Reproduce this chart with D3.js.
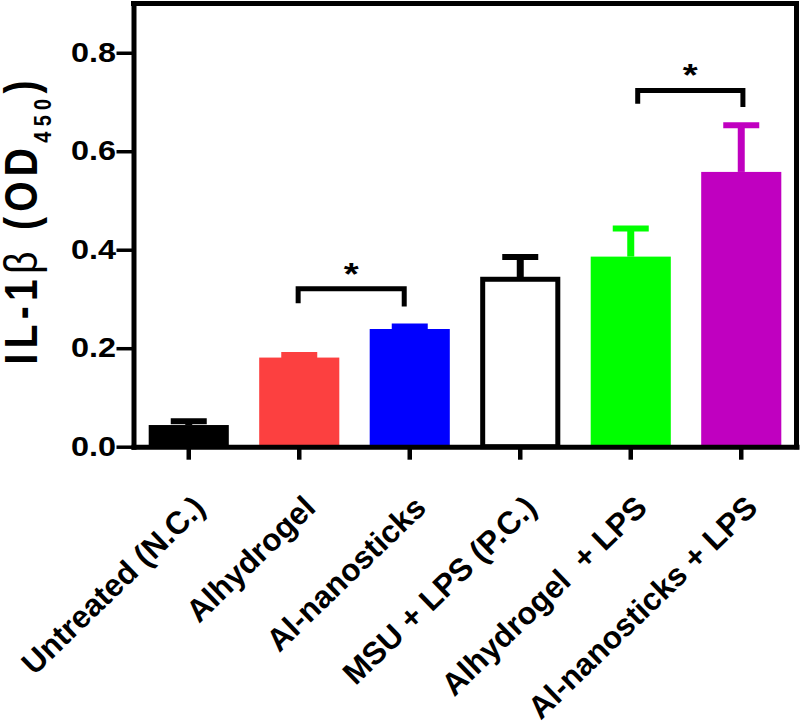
<!DOCTYPE html>
<html>
<head>
<meta charset="utf-8">
<script src="https://cdn.jsdelivr.net/npm/d3@7"></script>
<style>
  html, body { margin: 0; padding: 0; background: #fff; }
  svg { display: block; }
  text { font-family: "Liberation Sans", Arial, Helvetica, sans-serif; font-weight: bold; fill: #000; }
</style>
</head>
<body>
<svg id="chart" width="800" height="725"></svg>
<script>
// ---- data ----
const categories = ["Untreated (N.C.)", "Alhydrogel", "Al-nanosticks", "MSU + LPS (P.C.)", "Alhydrogel  + LPS", "Al-nanosticks + LPS"];
const means = [0.044, 0.181, 0.239, 0.340, 0.386, 0.558];
const sems = [0.0076, 0.005, 0.005, 0.045, 0.057, 0.095];
const fills = ["#000000", "#FC4040", "#0000FF", "#FFFFFF", "#00FF00", "#C000C0"];
const yTicks = [0.0, 0.2, 0.4, 0.6, 0.8];
// significance brackets: fractional category positions, bar height, leg end values
const bracketFrom = [0.99, 4.063];
const bracketTo = [1.95, 5.015];
const bracketTop = [0.3205, 0.7234];
const bracketLegFrom = [0.2915, 0.6965];
const bracketLegTo = [0.2846, 0.6898];
const bracketLabel = ["*", "*"];

(function () {
const svg = d3.select("#chart");
const pL = 133.5, pR = 796.5, pT = 3.5, pB = 446.7;

const y = d3.scaleLinear().domain([0, 0.9]).range([pB, pT]);
const x = d3.scaleBand().domain(categories).range([pL, pR]).paddingInner(0.275).paddingOuter(0.1375);
const xi = d3.scaleLinear().domain([0, 1]).range([x(categories[0]) + x.bandwidth() / 2, x(categories[1]) + x.bandwidth() / 2]);

// bars
const bars = svg.append("g");
categories.forEach((c, i) => {
  const isWhite = fills[i] === "#FFFFFF";
  const cx = x(c) + x.bandwidth() / 2;
  const ecol = isWhite ? "#000" : fills[i];
  bars.append("line")
    .attr("x1", cx).attr("x2", cx)
    .attr("y1", y(means[i])).attr("y2", y(means[i] + sems[i]))
    .attr("stroke", ecol).attr("stroke-width", 7);
  bars.append("line")
    .attr("x1", cx - 18).attr("x2", cx + 18)
    .attr("y1", y(means[i] + sems[i])).attr("y2", y(means[i] + sems[i]))
    .attr("stroke", ecol).attr("stroke-width", 6);
  if (isWhite) {
    bars.append("rect")
      .attr("x", x(c) + 2.5).attr("width", x.bandwidth() - 5)
      .attr("y", y(means[i])).attr("height", y(0) - y(means[i]))
      .attr("fill", "#fff").attr("stroke", "#000").attr("stroke-width", 5);
  } else {
    bars.append("rect")
      .attr("x", x(c)).attr("width", x.bandwidth())
      .attr("y", y(means[i])).attr("height", y(0) - y(means[i]))
      .attr("fill", fills[i]);
  }
});

// frame (top + right)
svg.append("path")
  .attr("d", `M${pL},${pT}H${pR}V${pB}`)
  .attr("fill", "none").attr("stroke", "#000").attr("stroke-width", 5)
  .attr("stroke-linecap", "square");

// y axis
const yAxis = svg.append("g").attr("transform", `translate(${pL},0)`)
  .call(d3.axisLeft(y).tickValues(yTicks).tickFormat(d3.format(".1f")).tickSize(17).tickSizeOuter(0));
yAxis.attr("font-family", null).attr("font-size", null);
yAxis.select(".domain").attr("stroke", "#000").attr("stroke-width", 5).attr("stroke-linecap", "square");
yAxis.selectAll(".tick line").attr("stroke", "#000").attr("stroke-width", 3.5);
yAxis.selectAll(".tick text")
  .attr("x", 0)
  .attr("transform", "translate(-17.5,0) scale(1.2,1)")
  .attr("font-size", 27)
  .attr("fill", "#000");

// x axis
const xAxis = svg.append("g").attr("transform", `translate(0,${pB})`)
  .call(d3.axisBottom(x).tickSize(13).tickSizeOuter(0));
xAxis.attr("font-family", null).attr("font-size", null);
xAxis.select(".domain").attr("stroke", "#000").attr("stroke-width", 5).attr("stroke-linecap", "square");
xAxis.selectAll(".tick line").attr("stroke", "#000").attr("stroke-width", 4.5);
xAxis.selectAll(".tick text")
  .attr("x", 0).attr("y", 0).attr("dy", 0)
  .attr("text-anchor", "end")
  .attr("transform", "translate(18,63) rotate(-44)")
  .attr("font-size", 31.5)
  .style("white-space", "pre")
  .attr("fill", "#000");

// y label
const yl = svg.append("text")
  .attr("text-anchor", "middle")
  .attr("transform", "translate(37,222.5) scale(1.2,1) rotate(-90)")
  .attr("font-size", 39)
  .attr("textLength", 284)
  .attr("lengthAdjust", "spacing");
yl.append("tspan").text("IL-1");
yl.append("tspan").attr("font-weight", "normal").text("β");
yl.append("tspan").text(" (OD");
yl.append("tspan").attr("font-size", 20).attr("dy", 11.5).text("450");
yl.append("tspan").attr("dy", -11.5).text(")");

// significance brackets
bracketFrom.forEach((f, i) => {
  const x1 = xi(f), x2 = xi(bracketTo[i]);
  svg.append("path")
    .attr("d", `M${x1},${y(bracketLegFrom[i])}V${y(bracketTop[i])}H${x2}V${y(bracketLegTo[i])}`)
    .attr("fill", "none").attr("stroke", "#000").attr("stroke-width", 5);
  svg.append("text")
    .attr("transform", `translate(${(x1 + x2) / 2},${y(bracketTop[i]) - 4}) scale(1.2,1)`)
    .attr("text-anchor", "middle")
    .attr("font-size", 32)
    .text(bracketLabel[i]);
});
})();
</script>
</body>
</html>
